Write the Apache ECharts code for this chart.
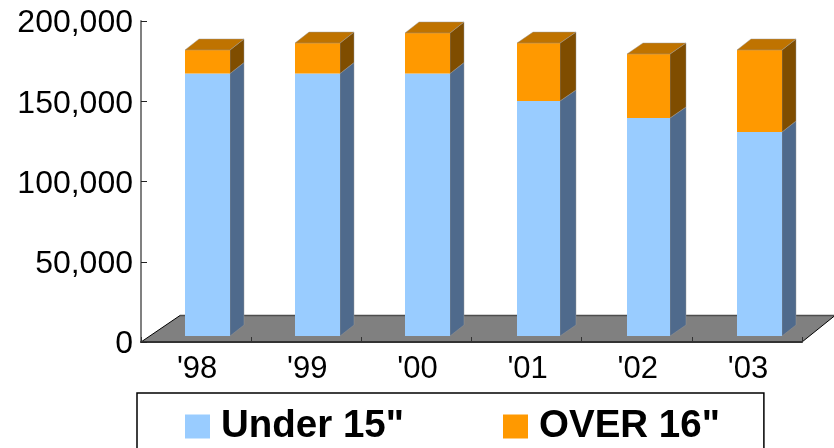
<!DOCTYPE html>
<html><head><meta charset="utf-8">
<style>html,body{margin:0;padding:0;background:#fff}#c{width:834px;height:448px}</style>
<script src="https://cdn.jsdelivr.net/npm/echarts@6/dist/echarts.min.js"></script></head>
<body><div id="c"></div>
<script>
const categories = ["'98","'99","'00","'01","'02","'03"];
const under15 = [163500,163500,163500,146400,135800,127100];
const over16 = [14700,19000,25300,36100,39900,51100];
const yTicks = {min:0,max:200000,interval:50000};

// 3D look: pixel-snapped geometry of the projected boxes
const DY=11, BASE_DX=11.6, BASE_DY=6;
const barNudge=[0,0,0,1.5,1.3,1.1], barW=[45,45,45,43,43,45], barD=[14,14,14,16,16,14];
const EDGE='rgba(150,150,150,0.45)';
function poly(pts,fill,edge){return {type:'polygon',shape:{points:pts},style:{fill:fill,stroke:edge||null,lineWidth:edge?1:0},silent:true};}
function bar(colors,withTop){
  return function(params,api){
    const i=api.value(0), W=barW[i], DX=barD[i];
    const p0=api.coord([i,api.value(1)]), p1=api.coord([i,api.value(2)]);
    const l=Math.round(p0[0]+BASE_DX-22.7+barNudge[i]), r=l+W, b=p0[1]-BASE_DY, t=p1[1]-BASE_DY;
    const ch=[
      poly([[r,b],[r+DX,b-DY],[r+DX,t-DY],[r,t]],colors.side,EDGE),
      poly([[l,b],[r,b],[r,t],[l,t]],colors.front)
    ];
    if(withTop) ch.push(poly([[l,t],[r,t],[r+DX,t-DY],[l+DX,t-DY]],colors.top,EDGE));
    return {type:'group',children:ch};
  };
}
function floor(params,api){
  const c=params.coordSys, x0=c.x, x1=c.x+c.width, y=c.y+c.height;
  const fd=33, fh=26.5;
  return {type:'group',children:[
    {type:'polygon',shape:{points:[[x0,y],[x1,y],[x1+fd,y-fh],[x0+fd+6,y-fh]]},style:{fill:'#808080'},silent:true},
    {type:'line',shape:{x1:x0+fd+6,y1:y-fh,x2:x1+fd,y2:y-fh},style:{stroke:'#4d4d4d',lineWidth:1.5},silent:true},
    {type:'line',shape:{x1:x0,y1:y,x2:x0+fd+6,y2:y-fh},style:{stroke:'#000',lineWidth:1},silent:true},
    {type:'line',shape:{x1:x1,y1:y,x2:x1+fd,y2:y-fh},style:{stroke:'#000',lineWidth:1},silent:true}
  ]};
}
const blueData=categories.map((c,i)=>[i,0,under15[i]]);
const orangeData=categories.map((c,i)=>[i,under15[i],under15[i]+over16[i]]);
const font='"Liberation Sans", Arial, sans-serif';
const chart=echarts.init(document.getElementById('c'),null,{renderer:'canvas'});
chart.setOption({
  animation:false,
  backgroundColor:'#fff',
  grid:{left:141,right:32,top:21,bottom:106,containLabel:false},
  legend:{
    show:true,left:137,top:393,
    padding:[14,44,30,48],
    itemWidth:25,itemHeight:24,itemGap:99,
    borderColor:'#000',borderWidth:1.5,backgroundColor:'#fff',
    icon:'rect',
    data:['Under 15"','OVER 16"'],
    selectedMode:false,
    textStyle:{fontFamily:font,fontSize:38.5,fontWeight:'bold',color:'#000',padding:[0,0,2,6]}
  },
  xAxis:{type:'category',data:categories,z:6,
    axisLine:{lineStyle:{color:'#333',width:2}},
    axisTick:{show:true,inside:true,length:5,alignWithLabel:false,lineStyle:{color:'#333',width:1}},
    axisLabel:{fontFamily:font,fontSize:31,color:'#000',margin:12,padding:[0,0,0,2]},
    splitLine:{show:false}},
  yAxis:{type:'value',min:yTicks.min,max:yTicks.max,interval:yTicks.interval,z:6,
    axisLine:{show:true,lineStyle:{color:'#808080',width:2}},
    axisTick:{show:true,inside:true,length:6,lineStyle:{color:'#222',width:1}},
    axisLabel:{fontFamily:font,fontSize:32,color:'#000',margin:8,verticalAlign:'top',lineHeight:5,formatter:v=>v.toLocaleString('en-US')},
    splitLine:{show:false}},
  series:[
    {type:'custom',name:'floor',z:1,renderItem:floor,data:[[0,0,0]],encode:{x:0,y:1},silent:true},
    {type:'custom',name:'Under 15"',z:2,itemStyle:{color:'#99CCFF'},encode:{x:0,y:2},data:blueData,
     renderItem:bar({front:'#99CCFF',side:'#4F6A8C'},false)},
    {type:'custom',name:'OVER 16"',z:3,itemStyle:{color:'#FF9900'},encode:{x:0,y:2},data:orangeData,
     renderItem:bar({front:'#FF9900',side:'#7F4D00',top:'#BF7300'},true)}
  ]
});
</script></body></html>
